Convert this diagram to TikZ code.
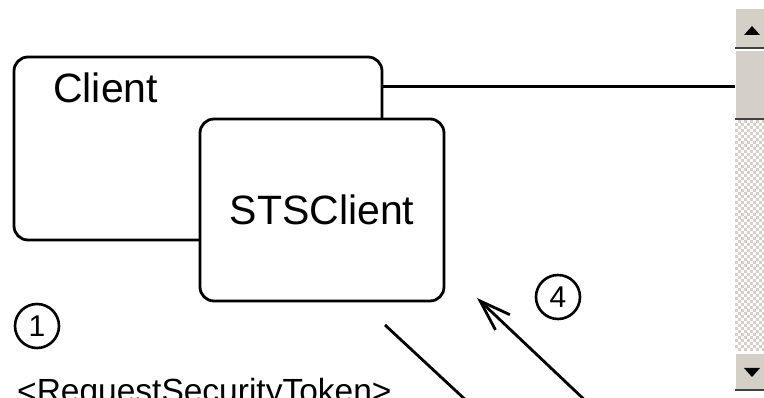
\documentclass[tikz,border=0pt]{standalone}
\usepackage{fontspec}
\setmainfont{Liberation Sans}
\usepackage{tikz}
\usetikzlibrary{positioning,arrows.meta}
\definecolor{btngray}{HTML}{D4D0C8}
\definecolor{btndark}{HTML}{404040}

\tikzset{
  part/.style={draw, line width=2.8pt, rounded corners=14pt, fill=white, inner sep=0pt},
  stepmark/.style={draw, circle, line width=2.6pt, minimum size=44pt, inner sep=0pt,
    font=\fontsize{30}{30}\selectfont},
  msg/.style={line width=2.8pt},
  button/.style={fill=btngray}
}

\begin{document}
\begin{tikzpicture}[x=1pt,y=-1pt]
\useasboundingbox (0,0) rectangle (764,398);
\clip (0,0) rectangle (764,398);

\node[part, minimum width=368pt, minimum height=183pt] (client) at (198,148.5) {};
\node[anchor=base west, inner sep=0pt, font=\fontsize{41}{48}\selectfont] (clientlabel) at (53,103) {Client};
\coordinate (bar) at (735,87);
\draw[line width=3pt] (client.east |- bar) -- (bar);

\node[part, minimum width=244pt, minimum height=182pt, font=\fontsize{41}{48}\selectfont] (stsclient) at (322,210) {STSClient};

\node[stepmark] (step1) at (37,326) {1};
\node[stepmark] (step4) at (558,297) {4};
\node[anchor=base west, inner sep=0pt, font=\fontsize{33.5}{40}\selectfont] (rst) at (17,402.5) {<RequestSecurityToken>};

\coordinate (out1) at (385,325);
\coordinate (end1) at (470,404);
\coordinate (tip4) at (477,298);
\coordinate (end4) at (590,405);
\draw[msg] (out1) -- (end1);
\draw[msg, -{Straight Barb[length=31pt, width=21pt]}] (end4) -- (tip4);

% scroll bar
\fill[white] (735,0) rectangle (764,398);
\fill[button] (735,8) rectangle (764,47);
\draw[white, line width=1pt] (735.5,47) -- (735.5,8.5) -- (764,8.5);
\draw[btndark, line width=2pt] (735,48) -- (764,48);
\fill (752,26) -- (744,35) -- (760,35) -- cycle;
\fill[button] (735,50) rectangle (764,118);
\draw[white, line width=1pt] (735.5,118) -- (735.5,50.5) -- (764,50.5);
\draw[btndark, line width=2pt] (735,119) -- (764,119);
\foreach \i in {0,...,76} {
  \foreach \j in {0,...,9} {
    \pgfmathtruncatemacro{\odd}{mod(\i+\j,2)}
    \ifnum\odd=1
      \fill[btngray] (735+3*\j,120+3*\i) rectangle ++(3,3);
    \fi
  }
}
\fill[button] (735,353) rectangle (764,389);
\draw[white, line width=1pt] (735.5,389) -- (735.5,353.5) -- (764,353.5);
\draw[btndark, line width=2pt] (735,390) -- (764,390);
\fill (752,377) -- (744,368) -- (760,368) -- cycle;
\end{tikzpicture}
\end{document}
